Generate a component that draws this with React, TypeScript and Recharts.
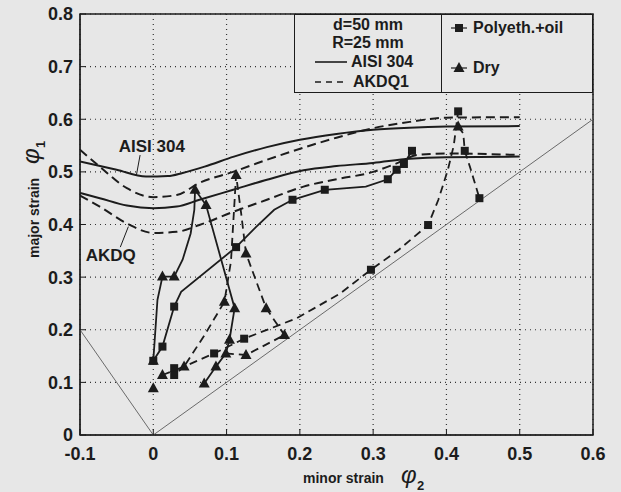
import {
  ComposedChart,
  Line,
  XAxis,
  YAxis,
  CartesianGrid,
  ReferenceArea,
  ReferenceLine,
  ReferenceDot,
  Legend,
  Label,
} from "recharts";

type Pt = { x: number; y: number; m?: "s" | "t" };

const INK = "#1c1c1c";
const PAPER = "#e7e7e7";
const FONT = "'Liberation Sans', Arial, sans-serif";

const xTicks = [-0.1, 0, 0.1, 0.2, 0.3, 0.4, 0.5, 0.6];
const yTicks = [0, 0.1, 0.2, 0.3, 0.4, 0.5, 0.6, 0.7, 0.8];

// forming limit curves
const aisiUpper: Pt[] = [
  { x: -0.1, y: 0.52 }, { x: -0.05, y: 0.504 }, { x: -0.01, y: 0.491 }, { x: 0.02, y: 0.492 },
  { x: 0.04, y: 0.498 }, { x: 0.07, y: 0.51 }, { x: 0.11, y: 0.529 }, { x: 0.155, y: 0.547 },
  { x: 0.2, y: 0.561 }, { x: 0.25, y: 0.572 }, { x: 0.3, y: 0.58 }, { x: 0.35, y: 0.584 },
  { x: 0.4, y: 0.586 }, { x: 0.5, y: 0.587 },
];
const aisiLower: Pt[] = [
  { x: -0.1, y: 0.46 }, { x: -0.073, y: 0.45 }, { x: -0.036, y: 0.436 }, { x: 0, y: 0.431 },
  { x: 0.032, y: 0.434 }, { x: 0.063, y: 0.447 }, { x: 0.109, y: 0.466 }, { x: 0.155, y: 0.485 },
  { x: 0.205, y: 0.503 }, { x: 0.25, y: 0.511 }, { x: 0.3, y: 0.517 }, { x: 0.35, y: 0.525 },
  { x: 0.4, y: 0.528 }, { x: 0.5, y: 0.529 },
];
const akdqUpper: Pt[] = [
  { x: -0.1, y: 0.542 }, { x: -0.073, y: 0.51 }, { x: -0.036, y: 0.469 }, { x: 0, y: 0.452 },
  { x: 0.032, y: 0.456 }, { x: 0.063, y: 0.479 }, { x: 0.109, y: 0.5 }, { x: 0.155, y: 0.523 },
  { x: 0.205, y: 0.546 }, { x: 0.25, y: 0.565 }, { x: 0.3, y: 0.583 }, { x: 0.35, y: 0.595 },
  { x: 0.4, y: 0.603 }, { x: 0.5, y: 0.604 },
];
const akdqLower: Pt[] = [
  { x: -0.1, y: 0.455 }, { x: -0.073, y: 0.434 }, { x: -0.036, y: 0.402 }, { x: 0, y: 0.384 },
  { x: 0.032, y: 0.386 }, { x: 0.063, y: 0.399 }, { x: 0.109, y: 0.424 }, { x: 0.155, y: 0.447 },
  { x: 0.205, y: 0.472 }, { x: 0.25, y: 0.486 }, { x: 0.3, y: 0.5 }, { x: 0.33, y: 0.515 },
  { x: 0.36, y: 0.532 }, { x: 0.4, y: 0.535 }, { x: 0.5, y: 0.532 },
];

// strain paths, AISI 304 (solid)
const oilAisi: Pt[] = [
  { x: 0, y: 0.141, m: "s" }, { x: 0.0125, y: 0.168, m: "s" }, { x: 0.0285, y: 0.244, m: "s" },
  { x: 0.038, y: 0.272 }, { x: 0.113, y: 0.357, m: "s" }, { x: 0.14, y: 0.395 },
  { x: 0.165, y: 0.428 }, { x: 0.19, y: 0.447, m: "s" }, { x: 0.234, y: 0.466, m: "s" },
  { x: 0.29, y: 0.472 }, { x: 0.32, y: 0.486, m: "s" }, { x: 0.332, y: 0.504, m: "s" },
  { x: 0.342, y: 0.515, m: "s" }, { x: 0.353, y: 0.54, m: "s" },
];
const dryAisi: Pt[] = [
  { x: 0, y: 0.141, m: "t" }, { x: 0.0057, y: 0.257 }, { x: 0.0125, y: 0.301, m: "t" },
  { x: 0.0285, y: 0.301, m: "t" }, { x: 0.04, y: 0.333 }, { x: 0.051, y: 0.383 },
  { x: 0.056, y: 0.428 }, { x: 0.057, y: 0.466, m: "t" }, { x: 0.072, y: 0.437, m: "t" },
  { x: 0.111, y: 0.241, m: "t" }, { x: 0.104, y: 0.181, m: "t" }, { x: 0.099, y: 0.155, m: "t" },
  { x: 0.0855, y: 0.13, m: "t" }, { x: 0.0695, y: 0.098, m: "t" },
];

// strain paths, AKDQ1 (dashed)
const oilAkdq: Pt[] = [
  { x: 0.0285, y: 0.127, m: "s" }, { x: 0.0285, y: 0.114, m: "s" }, { x: 0.042, y: 0.13 },
  { x: 0.083, y: 0.155, m: "s" }, { x: 0.124, y: 0.183, m: "s" }, { x: 0.196, y: 0.222 },
  { x: 0.255, y: 0.269 }, { x: 0.297, y: 0.314, m: "s" }, { x: 0.335, y: 0.352 },
  { x: 0.375, y: 0.399, m: "s" }, { x: 0.389, y: 0.447 }, { x: 0.402, y: 0.504 },
  { x: 0.41, y: 0.55 }, { x: 0.416, y: 0.615, m: "s" },
];
const oilAkdqPeak: Pt[] = [
  { x: 0.416, y: 0.586, m: "t" }, { x: 0.423, y: 0.573 }, { x: 0.425, y: 0.54, m: "s" },
  { x: 0.432, y: 0.51 }, { x: 0.445, y: 0.45, m: "s" },
];
const dryAkdq: Pt[] = [
  { x: 0.0125, y: 0.114, m: "t" }, { x: 0.042, y: 0.13, m: "t" }, { x: 0.07, y: 0.19 },
  { x: 0.097, y: 0.253, m: "t" }, { x: 0.106, y: 0.33 }, { x: 0.113, y: 0.494, m: "t" },
  { x: 0.12, y: 0.42 }, { x: 0.1265, y: 0.345, m: "t" }, { x: 0.154, y: 0.241, m: "t" },
  { x: 0.179, y: 0.19, m: "t" },
];
const dryAkdqLow: Pt[] = [
  { x: 0.099, y: 0.155 }, { x: 0.1265, y: 0.152, m: "t" }, { x: 0.179, y: 0.19 },
];
const dryAkdqStart: Pt[] = [{ x: 0, y: 0.089, m: "t" }];

// phi1 = -2 phi2 and phi1 = phi2
const refLines: Pt[] = [{ x: -0.1, y: 0.2 }, { x: 0, y: 0 }, { x: 0.6, y: 0.6 }];

const fmt = (v: number) => (v === 0 ? "0" : String(Math.round(v * 10) / 10));

function Marker(props: any) {
  const { cx, cy, payload } = props;
  if (cx == null || cy == null || !payload?.m) return <g />;
  if (payload.m === "s") {
    return <rect x={cx - 4} y={cy - 4} width={8} height={8} fill={INK} />;
  }
  return (
    <path d={`M${cx},${cy - 6} L${cx + 5.5},${cy + 4} L${cx - 5.5},${cy + 4} Z`} fill={INK} />
  );
}

const dot = (p: any) => <Marker key={p.key ?? `${p.cx}-${p.cy}`} {...p} />;

function LegendBox() {
  const txt: React.CSSProperties = {
    position: "absolute",
    fontFamily: FONT,
    fontWeight: 700,
    fontSize: 16,
    color: INK,
    lineHeight: "17px",
    whiteSpace: "nowrap",
  };
  return (
    <div
      style={{
        position: "relative",
        width: 299,
        height: 79,
        border: `1.5px solid ${INK}`,
        background: PAPER,
        boxSizing: "border-box",
      }}
    >
      <div style={{ position: "absolute", left: 146, top: 0, bottom: 0, borderLeft: `1.5px solid ${INK}` }} />
      <div style={{ ...txt, left: 0, width: 146, top: 1, textAlign: "center" }}>d=50 mm</div>
      <div style={{ ...txt, left: 0, width: 146, top: 19, textAlign: "center" }}>R=25 mm</div>
      <svg style={{ position: "absolute", left: 18, top: 40 }} width={36} height={36}>
        <line x1={2} y1={7} x2={34} y2={7} stroke={INK} strokeWidth={1.6} />
        <line x1={2} y1={27} x2={34} y2={27} stroke={INK} strokeWidth={1.6} strokeDasharray="6 5" />
      </svg>
      <div style={{ ...txt, left: 56, top: 38 }}>AISI 304</div>
      <div style={{ ...txt, left: 58, top: 58 }}>AKDQ1</div>
      <svg style={{ position: "absolute", left: 154, top: 2 }} width={20} height={60}>
        <line x1={2} y1={11} x2={18} y2={11} stroke={INK} strokeWidth={1.2} />
        <rect x={6} y={7} width={8} height={8} fill={INK} />
        <line x1={2} y1={51} x2={18} y2={51} stroke={INK} strokeWidth={1.2} />
        <path d="M10,45 L15.5,55 L4.5,55 Z" fill={INK} />
      </svg>
      <div style={{ ...txt, left: 178, top: 4 }}>Polyeth.+oil</div>
      <div style={{ ...txt, left: 178, top: 44 }}>Dry</div>
    </div>
  );
}

function XTitle() {
  return (
    <text fontFamily={FONT} fill={INK} fontWeight={700}>
      <tspan x={303} y={483} fontSize={14}>minor strain</tspan>
      <tspan x={401} y={483} fontSize={24} fontStyle="italic" fontWeight={400}>φ</tspan>
      <tspan x={417} y={490} fontSize={13}>2</tspan>
    </text>
  );
}

function YTitle() {
  return (
    <g transform="translate(39,258) rotate(-90)">
      <text fontFamily={FONT} fill={INK} fontWeight={700}>
        <tspan x={0} y={0} fontSize={14}>major strain</tspan>
        <tspan x={94} y={0} fontSize={24} fontStyle="italic" fontWeight={400}>φ</tspan>
        <tspan x={110} y={6} fontSize={13}>1</tspan>
      </text>
    </g>
  );
}

const tickStyle = { fill: INK, fontSize: 18, fontWeight: 700, fontFamily: FONT };

export default function App() {
  const solid = { stroke: INK, strokeWidth: 2, dot: false as const, isAnimationActive: false };
  const dashed = { ...solid, strokeDasharray: "9 5" };
  const path = { stroke: INK, strokeWidth: 1.8, type: "linear" as const, dot, activeDot: false, isAnimationActive: false };

  return (
    <div style={{ position: "absolute", left: 0, top: 0, width: 621, height: 492, background: PAPER }}>
      <ComposedChart width={621} height={492} margin={{ top: 14, right: 28, bottom: 17, left: 20 }}>
        <CartesianGrid stroke="#333" strokeDasharray="1 4" strokeWidth={1.2} />
        <XAxis
          type="number"
          dataKey="x"
          domain={[-0.1, 0.6]}
          ticks={xTicks}
          allowDataOverflow
          tickFormatter={fmt}
          tick={tickStyle}
          tickSize={-6}
          tickMargin={18}
          height={40}
          stroke={INK}
          interval={0}
        >
          <Label content={<XTitle />} />
        </XAxis>
        <YAxis
          type="number"
          dataKey="y"
          domain={[0, 0.8]}
          ticks={yTicks}
          allowDataOverflow
          tickFormatter={fmt}
          tick={tickStyle}
          tickSize={-6}
          tickMargin={13}
          width={60}
          stroke={INK}
          interval={0}
        >
          <Label content={<YTitle />} />
        </YAxis>
        <ReferenceArea x1={-0.1} x2={0.6} y1={0} y2={0.8} fill="none" stroke={INK} strokeWidth={1.5} />

        <Line data={refLines} dataKey="y" type="linear" stroke="#6a6a6a" strokeWidth={1} dot={false} isAnimationActive={false} />

        <Line data={aisiUpper} dataKey="y" type="monotone" {...solid} />
        <Line data={aisiLower} dataKey="y" type="monotone" {...solid} />
        <Line data={akdqUpper} dataKey="y" type="monotone" {...dashed} />
        <Line data={akdqLower} dataKey="y" type="monotone" {...dashed} />

        <Line data={oilAisi} dataKey="y" {...path} />
        <Line data={dryAisi} dataKey="y" {...path} />
        <Line data={oilAkdq} dataKey="y" {...path} strokeDasharray="8 5" />
        <Line data={oilAkdqPeak} dataKey="y" {...path} strokeDasharray="8 5" />
        <Line data={dryAkdq} dataKey="y" {...path} strokeDasharray="8 5" />
        <Line data={dryAkdqLow} dataKey="y" {...path} strokeDasharray="8 5" />
        <Line data={dryAkdqStart} dataKey="y" {...path} />

        {/* curve labels with leader lines */}
        <ReferenceLine segment={[{ x: -0.018, y: 0.532 }, { x: -0.023, y: 0.494 }]} stroke={INK} strokeWidth={1} ifOverflow="visible" />
        <ReferenceLine segment={[{ x: -0.045, y: 0.357 }, { x: -0.034, y: 0.396 }]} stroke={INK} strokeWidth={1} ifOverflow="visible" />
        <ReferenceDot x={-0.002} y={0.55} r={0} fill="none" stroke="none" ifOverflow="visible"
          label={{ value: "AISI 304", position: "center", fill: INK, fontSize: 17, fontWeight: 700, fontFamily: FONT }} />
        <ReferenceDot x={-0.058} y={0.343} r={0} fill="none" stroke="none" ifOverflow="visible"
          label={{ value: "AKDQ", position: "center", fill: INK, fontSize: 17, fontWeight: 700, fontFamily: FONT }} />

        <Legend
          layout="vertical"
          align="center"
          verticalAlign="middle"
          content={<LegendBox />}
          wrapperStyle={{ left: 294, top: 14, width: 299, height: 79 }}
        />
      </ComposedChart>
    </div>
  );
}
